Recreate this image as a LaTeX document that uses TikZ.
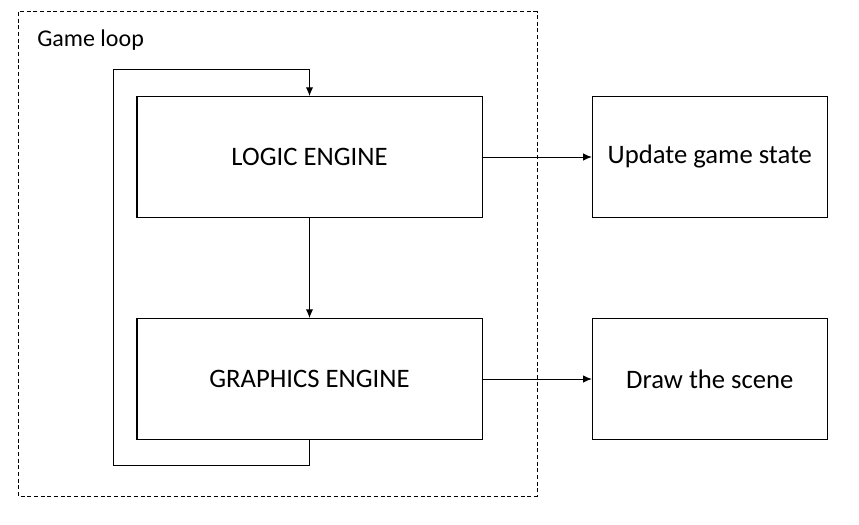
\documentclass[tikz,border=0pt]{standalone}
\usepackage{fontspec}
\setmainfont{Carlito}
\usepackage{tikz}
\usetikzlibrary{positioning,arrows.meta}
\tikzstyle{engine}=[rectangle, draw=black, line width=1pt, text centered,
        minimum width=259pt, minimum height=90.5pt, font=\fontsize{20}{24}\selectfont]
\tikzstyle{task}=[rectangle, draw=black, line width=1pt, text centered,
        minimum width=176pt, minimum height=90.5pt, font=\fontsize{20}{24}\selectfont]
\tikzstyle{looptitle}=[anchor=west, inner sep=0pt, font=\fontsize{18}{22}\selectfont]
\tikzstyle{myarrow}=[-{Latex[length=6.5pt,width=5.5pt]}, line width=0.75pt]
\tikzstyle{loopframe}=[draw=black, line width=0.75pt, dash pattern=on 3pt off 2pt]

\begin{document}
\begin{tikzpicture}[x=0.75pt, y=-0.75pt, node distance=75pt and 81.75pt]
    \useasboundingbox (0,0) rectangle (859,524);
    \node (logic) [engine] at (309.5,157) {LOGIC ENGINE};
    \node (graphics) [engine, below=of logic] {GRAPHICS ENGINE};
    \node (update) [task, right=of logic] {Update game state};
    \node (scene) [task, right=of graphics] {Draw the scene};
    % dashed game loop frame
    \draw[loopframe] (18,12) rectangle (537,496);
    \node (title) [looptitle] at (37,40) {Game loop};
    \draw[myarrow] (logic) -- (graphics);
    \draw[myarrow] (logic) -- (update);
    \draw[myarrow] (graphics) -- (scene);
    \draw[myarrow] (graphics.south) -- ++(0,25) -| (113,70) -| (logic.north);
\end{tikzpicture}
\end{document}
